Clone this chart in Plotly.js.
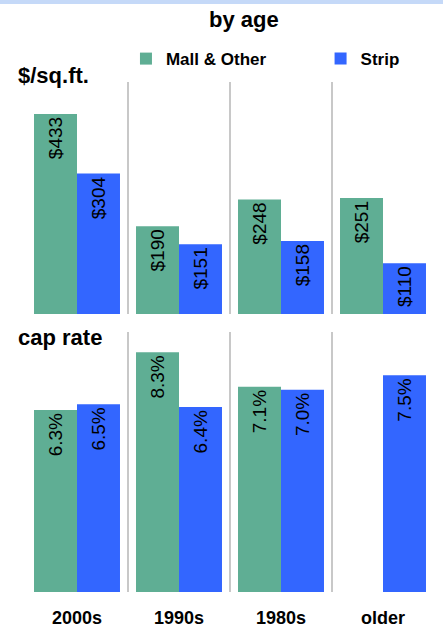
<!DOCTYPE html>
<html>
<head>
<meta charset="utf-8">
<script src="https://cdn.plot.ly/plotly-3.0.1.min.js"></script>
<style>html,body{margin:0;padding:0;background:#fff;}#chart{width:443px;height:627px;}</style>
</head>
<body>
<div id="chart"></div>
<script>
var categories = ["2000s", "1990s", "1980s", "older"];
var seriesNames = ["Mall & Other", "Strip"];
var priceMall = [433, 190, 248, 251];
var priceStrip = [304, 151, 158, 110];
var capMall = [6.3, 8.3, 7.1, null];
var capStrip = [6.5, 6.4, 7.0, 7.5];

var GREEN = "#5fae94";
var BLUE = "#3366ff";
var FONT = "Liberation Sans, Arial, sans-serif";

function barTrace(name, y, color, yaxis, tmpl, showlegend, legend) {
  return {
    type: "bar", name: name, x: categories, y: y, xaxis: "x", yaxis: yaxis,
    marker: {color: color, line: {width: 0}},
    texttemplate: tmpl, textposition: "inside", insidetextanchor: "end",
    textangle: -90, constraintext: "none",
    textfont: {family: FONT, size: 19, color: "#000"},
    showlegend: showlegend, legend: legend, legendgroup: name, hoverinfo: "skip", cliponaxis: false
  };
}

var data = [
  barTrace(seriesNames[0], priceMall, GREEN, "y", "$%{y}", true, "legend"),
  barTrace(seriesNames[1], priceStrip, BLUE, "y", "$%{y}", true, "legend2"),
  barTrace(seriesNames[0], capMall, GREEN, "y2", "%{y:.1f}%", false, "legend"),
  barTrace(seriesNames[1], capStrip, BLUE, "y2", "%{y:.1f}%", false, "legend2")
];

var legendFont = {family: FONT, size: 17, weight: "bold", color: "#000"};

var layout = {
  width: 443, height: 627,
  margin: {l: 26, r: 9, t: 82, b: 35, pad: 0},
  paper_bgcolor: "#fff", plot_bgcolor: "rgba(0,0,0,0)",
  font: {family: FONT, color: "#000"},
  barmode: "group", bargap: 0.157, bargroupgap: 0,
  showlegend: true,
  legend: {
    orientation: "h", x: 0.245, xanchor: "left", y: 1.045, yanchor: "middle",
    font: legendFont, bgcolor: "rgba(0,0,0,0)"
  },
  legend2: {
    orientation: "h", x: 0.722, xanchor: "left", y: 1.045, yanchor: "middle",
    font: legendFont, bgcolor: "rgba(0,0,0,0)"
  },
  xaxis: {
    type: "category", anchor: "y2", range: [-0.5, 3.5],
    tickson: "boundaries", showgrid: true, gridcolor: "#c8c8c8", gridwidth: 2,
    ticks: "", ticklabelstandoff: 13,
    tickfont: {family: FONT, size: 18, weight: "bold", color: "#000"},
    showline: false, zeroline: false, fixedrange: true
  },
  yaxis: {
    domain: [0.545, 1], anchor: "x", range: [0, 502],
    showgrid: false, zeroline: false, showticklabels: false, showline: false, ticks: ""
  },
  yaxis2: {
    domain: [0, 0.51], anchor: "x", range: [0, 9],
    showgrid: false, zeroline: false, showticklabels: false, showline: false, ticks: ""
  },
  annotations: [
    {text: "<b>by age</b>", xref: "paper", yref: "paper", x: 0.5355, y: 1.1216,
     xanchor: "center", yanchor: "middle", showarrow: false, borderpad: 0,
     font: {family: FONT, size: 22, color: "#000"}},
    {text: "<b>$/sq.ft.</b>", xref: "paper", yref: "paper", x: -0.022, y: 1.0118,
     xanchor: "left", yanchor: "middle", showarrow: false, borderpad: 0,
     font: {family: FONT, size: 22, color: "#000"}},
    {text: "<b>cap rate</b>", xref: "paper", yref: "paper", x: -0.022, y: 0.5,
     xanchor: "left", yanchor: "middle", showarrow: false, borderpad: 0,
     font: {family: FONT, size: 22, color: "#000"}}
  ],
  shapes: [
    {type: "rect", xref: "paper", yref: "paper", x0: -0.07, x1: 1.03,
     y0: (592 - 4) / 510, y1: 592 / 510 + 0.01, fillcolor: "#c5d9f8", line: {width: 0}, layer: "above"}
  ]
};

Plotly.newPlot("chart", data, layout, {displayModeBar: false, staticPlot: true});
</script>
</body>
</html>
